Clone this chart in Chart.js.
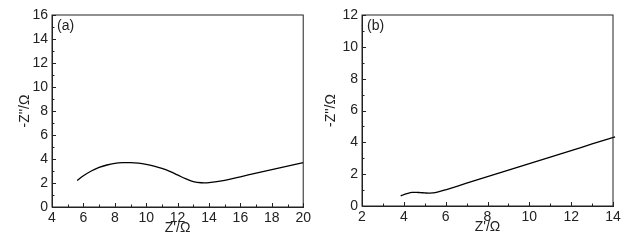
<!DOCTYPE html>
<html>
<head>
<meta charset="utf-8">
<script src="https://cdn.jsdelivr.net/npm/chart.js@4"></script>
<style>
  body { margin: 0; background: #fff; }
  .wrap { position: absolute; top: 0; height: 251px; }
</style>
</head>
<body>
<div class="wrap" style="left:0;width:314px"><canvas id="chartA"></canvas></div>
<div class="wrap" style="left:314px;width:315px"><canvas id="chartB"></canvas></div>
<script>
// panel (a)
const zReA = [5.6, 6.0, 6.5, 7.0, 7.5, 8.0, 8.5, 9.0, 9.5, 10.0, 10.5, 11.0, 11.5, 12.0, 12.5, 13.0, 13.5, 14.0, 15.0, 16.0, 17.0, 18.0, 19.0, 20.0];
const zImA = [2.2, 2.6, 3.0, 3.3, 3.5, 3.63, 3.69, 3.7, 3.66, 3.56, 3.41, 3.22, 2.97, 2.67, 2.36, 2.12, 2.02, 2.03, 2.22, 2.52, 2.82, 3.12, 3.41, 3.7];
const xTicksA = { min: 4, max: 20, step: 2 };
const yTicksA = { min: 0, max: 16, step: 2 };

// panel (b)
const zReB = [3.85, 4.0, 4.2, 4.4, 4.6, 4.8, 5.0, 5.2, 5.4, 5.6, 6.0, 7.0, 8.0, 9.0, 10.0, 11.0, 12.0, 13.0, 14.1];
const zImB = [0.63, 0.72, 0.8, 0.85, 0.86, 0.84, 0.82, 0.81, 0.82, 0.87, 1.02, 1.43, 1.84, 2.25, 2.66, 3.07, 3.48, 3.9, 4.35];
const xTicksB = { min: 2, max: 14, step: 2 };
const yTicksB = { min: 0, max: 12, step: 2 };

const FONT = 'Liberation Sans, Arial, sans-serif';
const INK = '#222';

// box round the plot, inward major/minor ticks and the panel letter
const framePlugin = {
  id: 'frame',
  afterDraw(chart, args, opts) {
    const { ctx, chartArea: a, scales: { x, y } } = chart;
    ctx.save();
    ctx.strokeStyle = INK;
    ctx.lineWidth = 1;
    ctx.strokeRect(a.left, a.top, a.right - a.left, a.bottom - a.top);
    ctx.beginPath();
    for (let v = x.min; v <= x.max + 1e-9; v += 1) {
      const px = Math.round(x.getPixelForValue(v)) + 0.5;
      const len = (v - x.min) % 2 === 0 ? 4 : 2.5;
      ctx.moveTo(px, a.bottom);
      ctx.lineTo(px, a.bottom - len);
    }
    for (let v = y.min; v <= y.max + 1e-9; v += 1) {
      const py = Math.round(y.getPixelForValue(v)) + 0.5;
      const len = (v - y.min) % 2 === 0 ? 4 : 2.5;
      ctx.moveTo(a.left, py);
      ctx.lineTo(a.left + len, py);
    }
    ctx.stroke();
    ctx.fillStyle = INK;
    ctx.font = '14px ' + FONT;
    ctx.textBaseline = 'middle';
    ctx.fillText(opts.label, a.left + 5, a.top + 11);
    ctx.restore();
  }
};

const makeChart = (id, xs, ys, xr, yr, cfg) => new Chart(document.getElementById(id), {
  type: 'scatter',
  data: {
    datasets: [{
      data: xs.map((v, i) => ({ x: v, y: ys[i] })),
      showLine: true,
      borderColor: '#000',
      borderWidth: 1.3,
      pointRadius: 0,
      tension: 0.4,
      clip: false
    }]
  },
  options: {
    responsive: true,
    maintainAspectRatio: false,
    animation: false,
    layout: { padding: { left: cfg.padLeft, right: cfg.padRight, top: 15, bottom: cfg.padBottom } },
    plugins: { legend: { display: false }, tooltip: { enabled: false }, frame: { label: cfg.label } },
    scales: {
      x: {
        type: 'linear', min: xr.min, max: xr.max,
        ticks: { stepSize: xr.step, color: INK, font: { family: FONT, size: 14 }, padding: 3, maxRotation: 0 },
        grid: { drawOnChartArea: false, drawTicks: false },
        border: { color: INK },
        title: { display: true, text: "Z'/Ω", color: INK, font: { family: FONT, size: 14 }, padding: { top: 0, bottom: 2.6 } },
        afterFit(s) { s.height = 32; }
      },
      y: {
        type: 'linear', min: yr.min, max: yr.max,
        ticks: { stepSize: yr.step, color: INK, font: { family: FONT, size: 14 }, padding: 4 },
        grid: { drawOnChartArea: false, drawTicks: false },
        border: { color: INK },
        title: { display: true, text: "-Z''/Ω", color: INK, font: { family: FONT, size: 14 }, padding: { top: cfg.titlePad, bottom: 0 } },
        afterFit(s) { s.width = cfg.yWidth; }
      }
    }
  },
  plugins: [framePlugin]
});

makeChart('chartA', zReA, zImA, xTicksA, yTicksA, { label: '(a)', padLeft: 8, padRight: 10, padBottom: 12, yWidth: 44, titlePad: 8.6 });
makeChart('chartB', zReB, zImB, xTicksB, yTicksB, { label: '(b)', padLeft: 4, padRight: 16, padBottom: 13, yWidth: 44, titlePad: 4.6 });
</script>
</body>
</html>
